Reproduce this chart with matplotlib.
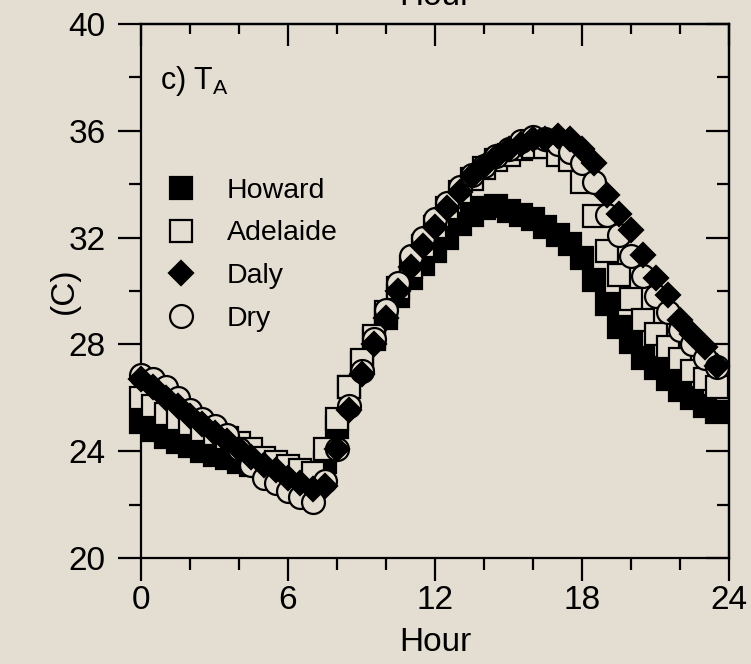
import numpy as np
import matplotlib
matplotlib.use("Agg")
import matplotlib.pyplot as plt
from matplotlib.lines import Line2D
from matplotlib.ticker import MultipleLocator

# ---------------- data ----------------
hours = np.arange(0, 24, 0.5)

howard = [25.1, 24.8, 24.55, 24.35, 24.2, 24.0, 23.85, 23.75, 23.6, 23.5,
          23.4, 23.3, 23.15, 23.0, 22.9, 23.6, 24.9, 26.4, 27.3, 28.2,
          29.0, 29.8, 30.5, 31.0, 31.5, 32.0, 32.5, 32.85, 33.1, 33.2,
          33.0, 32.85, 32.7, 32.4, 32.1, 31.75, 31.25, 30.4, 29.5, 28.65,
          28.1, 27.5, 27.1, 26.7, 26.3, 26.0, 25.7, 25.45]

adelaide = [26.0, 25.7, 25.4, 25.2, 25.0, 24.8, 24.65, 24.5, 24.3, 24.1,
            23.75, 23.6, 23.45, 23.3, 23.2, 24.1, 25.2, 26.4, 27.4, 28.3,
            29.2, 30.1, 30.9, 31.7, 32.4, 33.1, 33.7, 34.2, 34.6, 34.9,
            35.1, 35.3, 35.4, 35.4, 35.1, 34.9, 34.1, 32.8, 31.5, 30.6,
            29.7, 28.9, 28.4, 27.9, 27.45, 27.0, 26.7, 26.4]

daly = [26.7, 26.4, 26.0, 25.7, 25.3, 25.0, 24.7, 24.4, 24.1, 23.8,
        23.5, 23.3, 23.0, 22.8, 22.6, 22.7, 24.1, 25.55, 26.9, 28.0,
        29.0, 30.0, 30.9, 31.7, 32.4, 33.1, 33.7, 34.3, 34.7, 35.0,
        35.3, 35.5, 35.7, 35.7, 35.8, 35.7, 35.3, 34.8, 33.6, 32.9,
        32.3, 31.35, 30.5, 29.85, 28.9, 28.4, 27.9, 27.2]

dry = [26.85, 26.7, 26.4, 26.0, 25.55, 25.2, 24.95, 24.6, 24.1, 23.5,
       23.0, 22.8, 22.5, 22.3, 22.1, 22.9, 24.1, 25.7, 27.0, 28.2,
       29.3, 30.3, 31.3, 32.0, 32.7, 33.3, 33.9, 34.35, 34.7, 35.05,
       35.3, 35.6, 35.75, 35.7, 35.5, 35.2, 34.8, 34.1, 32.85, 32.1,
       31.3, 30.55, 29.8, 29.2, 28.55, 28.0, 27.5, 27.15]

series_names = ["Howard", "Adelaide", "Daly", "Dry"]
xticks = [0, 6, 12, 18, 24]
yticks = [20, 24, 28, 32, 36, 40]

# ---------------- style ----------------
BG = "#E4DDD1"
plt.rcParams["font.family"] = ["Liberation Sans", "DejaVu Sans"]

fig = plt.figure(figsize=(7.51, 6.64), dpi=100, facecolor=BG)
ax = fig.add_axes([141/751, 1-558/664, (729-141)/751, (558-24)/664])
ax.set_facecolor(BG)

mew = 1.6
styles = {
    "Howard":   dict(marker="s", ms=16.5, mfc="black", mec="black", mew=mew),
    "Adelaide": dict(marker="s", ms=16.0, mfc=BG, mec="black", mew=mew),
    "Daly":     dict(marker="D", ms=11.8, mfc="black", mec="black", mew=mew),
    "Dry":      dict(marker="o", ms=16.5, mfc=BG, mec="black", mew=mew),
}
data = {"Howard": howard, "Adelaide": adelaide, "Daly": daly, "Dry": dry}
zorders = {"Howard": 2, "Adelaide": 3, "Dry": 4, "Daly": 5}

for name in ["Howard", "Adelaide", "Dry", "Daly"]:
    ax.plot(hours, data[name], linestyle="none", zorder=zorders[name],
            clip_on=False, **styles[name])

ax.set_xlim(0, 24)
ax.set_ylim(20, 40)

for s in ax.spines.values():
    s.set_linewidth(1.6)

ax.xaxis.set_minor_locator(MultipleLocator(2))
ax.yaxis.set_minor_locator(MultipleLocator(2))
ax.set_xticks(xticks)
ax.set_yticks(yticks)
ax.tick_params(axis="both", which="major", direction="out", length=16.5,
               width=1.6, labelsize=24, top=False, right=False)
ax.tick_params(axis="both", which="minor", direction="out", length=8.5,
               width=1.6, top=False, right=False)
ax.tick_params(axis="y", which="major", pad=9)
ax.tick_params(axis="x", which="major", pad=3)

# right and top ticks pointing inward
secy = ax.secondary_yaxis("right")
secy.yaxis.set_major_locator(MultipleLocator(4))
secy.yaxis.set_minor_locator(MultipleLocator(2))
secy.tick_params(which="major", direction="in", length=16.5, width=1.6, labelright=False)
secy.tick_params(which="minor", direction="in", length=8.5, width=1.6)
secy.spines["right"].set_linewidth(1.6)

secx = ax.secondary_xaxis("top")
secx.xaxis.set_major_locator(MultipleLocator(6))
secx.xaxis.set_minor_locator(MultipleLocator(2))
secx.tick_params(which="major", direction="in", length=16, width=1.6, labeltop=False)
secx.tick_params(which="minor", direction="in", length=7.5, width=1.6)
secx.spines["top"].set_linewidth(1.6)

ax.set_xlabel("Hour", fontsize=24, labelpad=8)
ax.set_ylabel("(C)", fontsize=24)
ax.yaxis.set_label_coords(-(141 - 80) / 588, 0.5)

ax.text(0.032, 0.893, r"c) T$_\mathregular{A}$", transform=ax.transAxes,
        fontsize=22, va="center", ha="left")

# cut-off title at top
fig.text(435/751, 1 - 5/664, "Hour", fontsize=24,
         ha="center", va="baseline")

handles = [Line2D([], [], linestyle="none", **styles[n]) for n in series_names]
leg = ax.legend(handles, series_names, loc="upper left",
                bbox_to_anchor=(0.025, 0.733), frameon=False, fontsize=20.5,
                handlelength=1.0, handletextpad=1.1, labelspacing=0.58,
                borderaxespad=0, numpoints=1)

fig.savefig("out.png", dpi=100, facecolor=BG)
